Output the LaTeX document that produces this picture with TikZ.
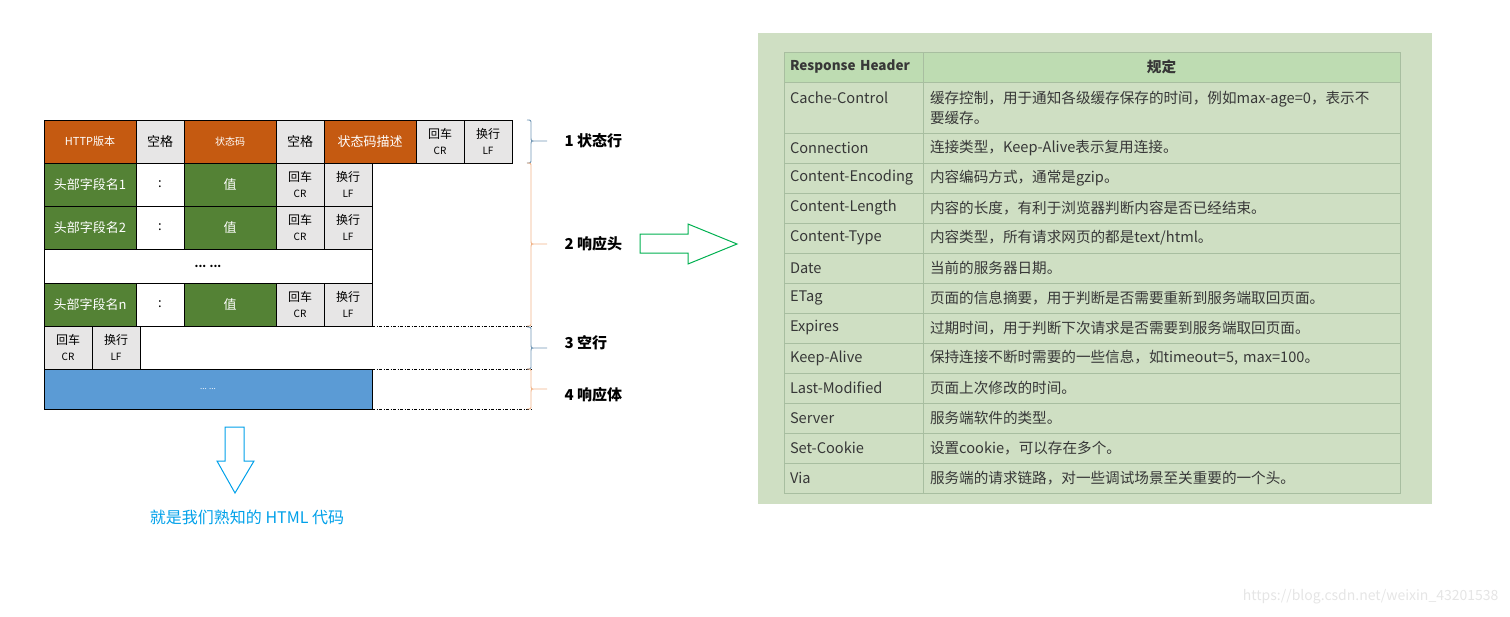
\documentclass[tikz,border=0pt]{standalone}
\usepackage{fontspec}
\setmainfont{Noto Sans CJK SC}
\usepackage{xcolor}
\usetikzlibrary{positioning}

\definecolor{hdrorange}{RGB}{197,90,17}
\definecolor{hdrgreen}{RGB}{84,130,53}
\definecolor{cellgray}{RGB}{231,230,230}
\definecolor{bodyblue}{RGB}{91,155,213}
\definecolor{braceblue}{RGB}{112,150,180}
\definecolor{braceorange}{RGB}{240,178,135}
\definecolor{arrowgreen}{RGB}{0,176,80}
\definecolor{arrowblue}{RGB}{0,160,233}
\definecolor{panelgreen}{RGB}{207,223,195}
\definecolor{headgreen}{RGB}{190,220,178}
\definecolor{gridgreen}{RGB}{168,190,160}
\definecolor{tabtext}{RGB}{55,55,55}

\newcommand\tabfont{\fontsize{14.6}{20}\selectfont}

\begin{document}
\begin{tikzpicture}[
  x=1pt, y=-1pt,
  cell/.style={draw, line width=0.8pt, inner sep=0pt, outer sep=0pt, anchor=north west, align=center, minimum height=43pt, font=\fontsize{13}{15}\selectfont},
  orng/.style={cell, fill=hdrorange, text=white, minimum width=92pt},
  grn/.style={cell, fill=hdrgreen, text=white, minimum width=92pt},
  gry/.style={cell, fill=cellgray, minimum width=48pt},
  wht/.style={cell, fill=white, minimum width=48pt},
  crlf/.style={gry, font=\fontsize{12}{16}\selectfont},
  lbl/.style={anchor=west, font=\bfseries\fontsize{15}{18}\selectfont},
  brc/.style={line width=0.9pt},
  dashdot/.style={line width=0.6pt, dash pattern=on 3pt off 1.5pt on 1pt off 1.5pt},
  key/.style={draw=gridgreen, line width=0.9pt, anchor=north west, inner xsep=6pt, inner ysep=0pt, outer sep=0pt, minimum height=30pt, text width=127pt, align=left, text=tabtext, font=\tabfont},
  val/.style={key, text width=463pt, inner xsep=7pt},
]
\useasboundingbox (0,0) rectangle (1510,616);

% status line
\node[orng, font=\fontsize{11}{13}\selectfont] (ver) at (44,120) {HTTP版本};
\node[gry, right=0pt of ver] (sp1) {空格};
\node[orng, right=0pt of sp1, font=\fontsize{10}{12}\selectfont] (code) {状态码};
\node[gry, right=0pt of code] (sp2) {空格};
\node[orng, right=0pt of sp2] (phrase) {状态码描述};
\node[crlf, right=0pt of phrase] (cr0) {回车\\{\fontsize{10}{12}\selectfont CR}};
\node[crlf, right=0pt of cr0] (lf0) {换行\\{\fontsize{10}{12}\selectfont LF}};

% header lines
\node[grn] (name1) at (44,163) {头部字段名1};
\node[wht, right=0pt of name1] (col1) {:};
\node[grn, right=0pt of col1] (val1) {值};
\node[crlf, right=0pt of val1] (cr1) {回车\\{\fontsize{10}{12}\selectfont CR}};
\node[crlf, right=0pt of cr1] (lf1) {换行\\{\fontsize{10}{12}\selectfont LF}};

\node[grn] (name2) at (44,206) {头部字段名2};
\node[wht, right=0pt of name2] (col2) {:};
\node[grn, right=0pt of col2] (val2) {值};
\node[crlf, right=0pt of val2] (cr2) {回车\\{\fontsize{10}{12}\selectfont CR}};
\node[crlf, right=0pt of cr2] (lf2) {换行\\{\fontsize{10}{12}\selectfont LF}};

\node[cell, fill=white, minimum width=328pt, minimum height=34pt, font=\bfseries\fontsize{11}{12}\selectfont] (more) at (44,249) {... ...};

\node[grn] (namen) at (44,283) {头部字段名n};
\node[wht, right=0pt of namen] (coln) {:};
\node[grn, right=0pt of coln] (valn) {值};
\node[crlf, right=0pt of valn] (crn) {回车\\{\fontsize{10}{12}\selectfont CR}};
\node[crlf, right=0pt of crn] (lfn) {换行\\{\fontsize{10}{12}\selectfont LF}};

% blank line + body
\node[crlf] (crb) at (44,326) {回车\\{\fontsize{10}{12}\selectfont CR}};
\node[crlf, right=0pt of crb] (lfb) {换行\\{\fontsize{10}{12}\selectfont LF}};
\node[cell, fill=bodyblue, text=white, minimum width=328pt, minimum height=40pt, font=\fontsize{8}{10}\selectfont] (body) at (44,369) {... ...};

\coordinate (e1) at (531,326);
\coordinate (e2) at (531,369);
\coordinate (e3) at (531,409);
\draw[dashdot] (lfn.south east) -- (e1);
\draw[dashdot] (body.north east) -- (e2);
\draw[dashdot] (body.south east) -- (e3);

% braces
\draw[brc, braceblue] (527,120) .. controls (531,120) .. (531,124) -- (531,137) .. controls (531,141) .. (535,141) -- (547,141)
  (535,141) .. controls (531,141) .. (531,145) -- (531,159) .. controls (531,163) .. (527,163);
\draw[brc, braceorange] (527,163) .. controls (531,163) .. (531,167) -- (531,240) .. controls (531,244) .. (535,244) -- (547,244)
  (535,244) .. controls (531,244) .. (531,248) -- (531,322) .. controls (531,326) .. (527,326);
\draw[brc, braceblue] (527,327) .. controls (531,327) .. (531,331) -- (531,344) .. controls (531,348) .. (535,348) -- (547,348)
  (535,348) .. controls (531,348) .. (531,352) -- (531,365) .. controls (531,369) .. (527,369);
\draw[brc, braceorange] (527,369) .. controls (531,369) .. (531,373) -- (531,385) .. controls (531,389) .. (535,389) -- (547,389)
  (535,389) .. controls (531,389) .. (531,393) -- (531,405) .. controls (531,409) .. (527,409);

\node[lbl] (l1) at (561,141) {1 状态行};
\node[lbl] (l2) at (561,244) {2 响应头};
\node[lbl] (l3) at (561,343) {3 空行};
\node[lbl] (l4) at (561,395) {4 响应体};

% hollow arrows
\draw[arrowgreen, line width=1pt, line join=miter] (640,234) -- (688,234) -- (688,224) -- (737,244) -- (688,264) -- (688,253) -- (640,253) -- cycle;
\draw[arrowblue, line width=1pt, line join=miter] (225,427) -- (244,427) -- (244,461) -- (254,461) -- (235,493) -- (217,461) -- (225,461) -- cycle;
\node[text=arrowblue, font=\fontsize{16}{19}\selectfont] (html) at (247,517) {就是我们熟知的 HTML 代码};

% header table
\node[fill=panelgreen, inner sep=0pt, anchor=north west, minimum width=674pt, minimum height=471pt] (panel) at (758,33) {};

\node[key, fill=headgreen, font=\fontsize{13.5}{20}\selectfont\bfseries] (h1) at (784,52) {\mbox{Response Header}};
\node[val, fill=headgreen, align=center, font=\tabfont\bfseries, right=0pt of h1] (h2) {规定};

\node[key, minimum height=51pt, below right=0pt of h1.south west] (k1) {Cache-Control\\\mbox{}};
\node[val, minimum height=51pt, right=0pt of k1] (v1) {缓存控制，用于通知各级缓存保存的时间，例如max-age=0，表示不\\要缓存。};
\node[key, below right=0pt of k1.south west] (k2) {Connection};
\node[val, right=0pt of k2] (v2) {连接类型，Keep-Alive表示复用连接。};
\node[key, below right=0pt of k2.south west] (k3) {Content-Encoding};
\node[val, right=0pt of k3] (v3) {内容编码方式，通常是gzip。};
\node[key, below right=0pt of k3.south west] (k4) {Content-Length};
\node[val, right=0pt of k4] (v4) {内容的长度，有利于浏览器判断内容是否已经结束。};
\node[key, below right=0pt of k4.south west] (k5) {Content-Type};
\node[val, right=0pt of k5] (v5) {内容类型，所有请求网页的都是text/html。};
\node[key, below right=0pt of k5.south west] (k6) {Date};
\node[val, right=0pt of k6] (v6) {当前的服务器日期。};
\node[key, below right=0pt of k6.south west] (k7) {ETag};
\node[val, right=0pt of k7] (v7) {页面的信息摘要，用于判断是否需要重新到服务端取回页面。};
\node[key, below right=0pt of k7.south west] (k8) {Expires};
\node[val, right=0pt of k8] (v8) {过期时间，用于判断下次请求是否需要到服务端取回页面。};
\node[key, below right=0pt of k8.south west] (k9) {Keep-Alive};
\node[val, right=0pt of k9] (v9) {保持连接不断时需要的一些信息，如timeout=5, max=100。};
\node[key, below right=0pt of k9.south west] (k10) {Last-Modified};
\node[val, right=0pt of k10] (v10) {页面上次修改的时间。};
\node[key, below right=0pt of k10.south west] (k11) {Server};
\node[val, right=0pt of k11] (v11) {服务端软件的类型。};
\node[key, below right=0pt of k11.south west] (k12) {Set-Cookie};
\node[val, right=0pt of k12] (v12) {设置cookie，可以存在多个。};
\node[key, below right=0pt of k12.south west] (k13) {Via};
\node[val, right=0pt of k13] (v13) {服务端的请求链路，对一些调试场景至关重要的一个头。};

\node[text=black!10, anchor=east, font=\fontsize{14}{16}\selectfont] (wm) at (1502,597) {https://blog.csdn.net/weixin\_43201538};
\end{tikzpicture}
\end{document}
